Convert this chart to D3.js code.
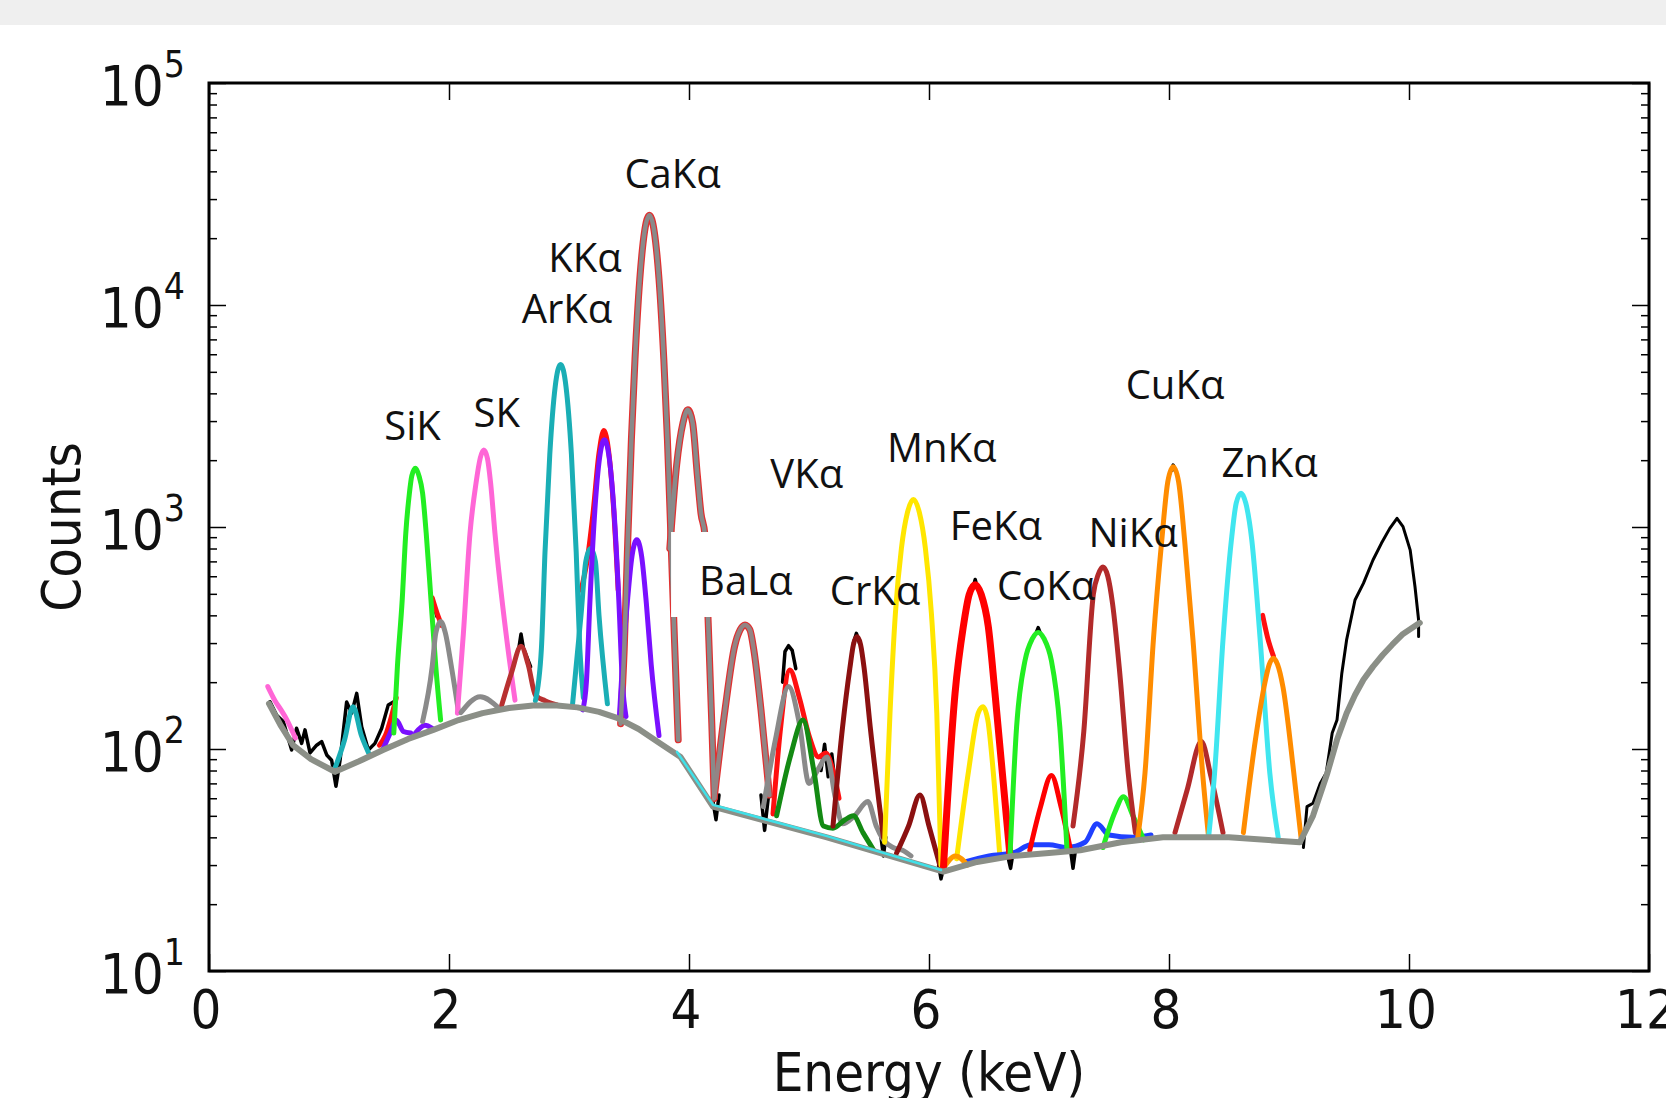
<!DOCTYPE html>
<html>
<head>
<meta charset="utf-8">
<script src="https://cdn.jsdelivr.net/npm/d3@7"></script>
<style>
  html, body { margin: 0; padding: 0; background: #fff; }
  .tick-font { font-family: 'DejaVu Sans Condensed', 'DejaVu Sans', sans-serif; font-stretch: condensed; fill: #111; }
  .peak-label { font-family: 'Open Sans', 'Lato', sans-serif; fill: #111; }
</style>
</head>
<body>
<div id="app"></div>
<script>
// values, [energy keV, counts]
var background = [[0.5,160],[0.6,127],[0.7,104],[0.85,90],[1.05,79],[1.25,88],[1.45,99],[1.66,111],[1.87,122],[2.08,135],[2.28,145],[2.5,153],[2.7,157],[2.9,157],[3.07,154],[3.25,147],[3.4,138],[3.58,123],[3.76,106],[3.93,92],[4.2,55],[5.15,40],[6.12,28],[6.4,31],[6.7,33],[7.0,34],[7.26,35],[7.6,38],[7.95,40],[8.5,40],[9.09,38],[9.2,50],[9.32,78],[9.4,110],[9.48,145],[9.55,175],[9.62,205],[9.7,235],[9.78,265],[9.86,295],[9.95,330],[10.09,370]];
var cyanBase = [[3.9,97],[4.2,56],[5.15,40.5],[6.1,28.5]];

var measuredLow = [[0.508,163],[0.564,142],[0.619,133],[0.647,118],[0.689,99],[0.73,124],[0.772,106],[0.8,122],[0.842,96],[0.897,104],[0.939,108],[0.981,94],[1.022,89],[1.058,68],[1.092,89],[1.147,163],[1.189,145],[1.231,178],[1.272,126],[1.328,99],[1.383,106],[1.439,124],[1.494,158],[1.536,163]];
var measuredHigh = [[9.12,36],[9.15,55],[9.2,57],[9.26,70],[9.31,78],[9.36,118],[9.4,135],[9.44,219],[9.48,310],[9.55,469],[9.62,557],[9.7,710],[9.77,844],[9.84,986],[9.9,1094],[9.95,1004],[10.01,787],[10.05,538],[10.08,381],[10.08,321]];
var measuredSpikes = [
  [[1.85,480],[1.88,430],[1.9,395]],
  [[2.58,280],[2.6,330],[2.62,285],[2.68,235]],
  [[4.2,58],[4.225,48],[4.25,62]],
  [[4.6,62],[4.63,43],[4.66,60]],
  [[4.78,200],[4.8,275],[4.83,292],[4.86,278],[4.89,230]],
  [[5.1,80],[5.13,105],[5.16,75],[5.19,95],[5.22,68]],
  [[5.37,300],[5.395,332],[5.42,300]],
  [[5.6,40],[5.62,33],[5.64,40]],
  [[6.08,30],[6.1,26],[6.12,29]],
  [[6.37,540],[6.385,580],[6.4,540]],
  [[6.65,34],[6.68,29],[6.7,34]],
  [[6.89,330],[6.91,352],[6.93,330]],
  [[7.18,35],[7.2,29],[7.22,35]],
  [[8.02,1800],[8.035,1900],[8.05,1800]]
];

var redLow = [[1.42,104],[1.47,115],[1.52,140],[1.56,170]];
var redSi = [[1.86,480],[1.9,410],[1.94,360]];
var redKK = [[3.1,520],[3.15,700],[3.2,1150],[3.25,2150],[3.29,2720],[3.33,2200],[3.37,1250],[3.41,520]];
var redV = [[4.7,51],[4.76,120],[4.84,227],[4.92,170],[5.0,115],[5.08,92],[5.14,96],[5.2,80],[5.25,60]];
var redZn = [[8.78,400],[8.82,320],[8.87,262]];

var pinkTail = [[0.49,191],[0.55,165],[0.6,150],[0.65,135],[0.72,112]];
var tealLow = [[1.05,82],[1.13,110],[1.2,155],[1.27,115],[1.33,96]];
var violetLow = [[1.45,100],[1.51,118],[1.56,135],[1.62,120],[1.68,118]];
var violetSi = [[1.72,118],[1.8,128],[1.86,124]];
var siK = [[1.54,118],[1.57,235],[1.61,469],[1.64,938],[1.67,1420],[1.69,1700],[1.72,1840],[1.75,1700],[1.78,1420],[1.81,938],[1.85,469],[1.89,235],[1.93,135]];
var grey19 = [[1.78,133],[1.86,235],[1.89,333],[1.93,375],[1.97,333],[2.02,235],[2.08,146]];
var sK = [[2.07,145],[2.12,332],[2.175,938],[2.225,1574],[2.26,2040],[2.29,2220],[2.32,2040],[2.347,1574],[2.383,938],[2.475,332],[2.55,166]];
var grey23 = [[2.1,146],[2.26,172],[2.42,152]];
var brown26 = [[2.44,158],[2.52,220],[2.6,290],[2.66,240],[2.72,175],[2.8,165],[2.9,158]];
var arKa = [[2.72,165],[2.77,283],[2.8,770],[2.84,2130],[2.885,4290],[2.93,5400],[2.975,4290],[3.02,2130],[3.06,770],[3.09,283],[3.12,170]];
var arKb = [[3.03,160],[3.1,400],[3.14,700],[3.18,800],[3.22,700],[3.25,400],[3.32,160]];
var kKa = [[3.115,150],[3.145,200],[3.175,470],[3.215,1180],[3.255,2050],[3.295,2470],[3.335,2050],[3.375,1180],[3.415,470],[3.445,200],[3.475,140]];
var kKb = [[3.42,140],[3.445,240],[3.485,450],[3.525,740],[3.565,875],[3.605,740],[3.645,450],[3.685,240],[3.75,115]];
var caKa = [[3.43,130],[3.46,280],[3.49,880],[3.52,2480],[3.55,5710],[3.59,13100],[3.63,21500],[3.67,25400],[3.71,21500],[3.75,13100],[3.79,5710],[3.82,2480],[3.85,880],[3.88,300],[3.91,110]];
var caKb = [[3.84,800],[3.897,1900],[3.95,2950],[3.99,3370],[4.03,2950],[4.07,1700],[4.1,1150],[4.133,921],[4.16,370],[4.19,130],[4.21,60]];
var baLa = [[4.21,60],[4.3,150],[4.38,290],[4.427,345],[4.467,362],[4.507,345],[4.54,280],[4.6,150],[4.67,62]];
var baLb = [[4.62,55],[4.72,110],[4.83,191],[4.92,130],[5.0,70],[5.07,80],[5.15,92],[5.22,60],[5.28,46],[5.38,50],[5.49,58],[5.56,45],[5.62,39],[5.7,36],[5.78,35],[5.85,33]];
var vKa = [[4.73,50],[4.85,95],[4.95,135],[5.04,80],[5.12,45],[5.2,44],[5.3,48],[5.37,50],[5.45,42],[5.54,35]];
var crKa = [[5.2,45],[5.28,126],[5.34,230],[5.37,295],[5.4,320],[5.43,295],[5.46,230],[5.51,126],[5.62,40]];
var crKb = [[5.73,34],[5.83,45],[5.925,62],[6.0,45],[6.09,30]];
var mnKa = [[5.63,38],[5.675,145],[5.72,408],[5.77,800],[5.82,1160],[5.87,1330],[5.92,1160],[5.97,800],[6.02,408],[6.065,145],[6.1,30]];
var mnKb = [[6.23,32],[6.33,80],[6.41,145],[6.45,155],[6.49,135],[6.53,85],[6.59,33]];
var feKa = [[6.12,29],[6.217,178],[6.286,356],[6.335,497],[6.385,550],[6.435,497],[6.494,356],[6.55,178],[6.675,33]];
var feKb = [[6.84,35],[6.93,55],[7.02,76],[7.1,55],[7.18,35]];
var blueBase = [[6.3,31],[6.5,33],[6.7,34],[6.85,37],[7.0,37],[7.15,36],[7.3,38],[7.4,46],[7.5,41],[7.7,40],[7.85,41]];
var orangeSmall = [[6.12,29],[6.22,33],[6.32,30]];
var coKa = [[6.675,33],[6.73,126],[6.8,250],[6.86,313],[6.91,335],[6.96,313],[7.02,250],[7.09,126],[7.15,35]];
var coKb = [[7.45,36],[7.55,52],[7.62,61],[7.7,50],[7.79,39]];
var niKa = [[7.2,45],[7.29,120],[7.37,500],[7.41,610],[7.45,660],[7.49,600],[7.53,450],[7.59,219],[7.66,78],[7.72,42]];
var niKb = [[8.05,42],[8.15,65],[8.27,108],[8.35,75],[8.45,42]];
var cuKa = [[7.74,40],[7.8,78],[7.87,310],[7.94,873],[7.99,1600],[8.035,1870],[8.08,1600],[8.13,873],[8.2,310],[8.28,78],[8.33,40]];
var znKa = [[8.33,40],[8.38,78],[8.45,310],[8.52,873],[8.56,1280],[8.6,1420],[8.64,1280],[8.69,873],[8.76,310],[8.84,78],[8.91,40]];
var cuKb = [[8.62,42],[8.72,110],[8.8,200],[8.835,240],[8.87,256],[8.905,240],[8.95,190],[9.04,78],[9.1,40]];

var labelNames = ['CaKα','KKα','ArKα','SiK','SK','VKα','MnKα','BaLα','CrKα','FeKα','CoKα','NiKα','CuKα','ZnKα'];
var labelEnergy = [3.863,3.133,2.983,1.696,2.398,4.981,6.106,4.473,5.55,6.557,6.975,7.70,8.05,8.838];
var labelCounts = [33650,14090,8290,2466,2820,1499,1963,494,446,874,469,813,3773,1679];

var xTicks = [0,2,4,6,8,10,12];
var yDecades = [10,100,1000,10000,100000];
var yExponents = ['1','2','3','4','5'];

// ---- layout
var W = 1666, H = 1098;
var pLeft = 209, pRight = 1649, pTop = 83, pBottom = 971;

var svg = d3.select('#app').append('svg')
    .attr('width', W)
    .attr('height', H)
    .style('display', 'block');

svg.append('rect').attr('x',0).attr('y',0).attr('width',W).attr('height',25).attr('fill','#efefef');

var x = d3.scaleLinear().domain([0,12]).range([pLeft,pRight]);
var y = d3.scaleLog().domain([10,100000]).range([pBottom,pTop]);

var smooth = d3.line().x(function(d){return x(d[0])}).y(function(d){return y(d[1])}).curve(d3.curveMonotoneX);
var jagged = d3.line().x(function(d){return x(d[0])}).y(function(d){return y(d[1])});

var plot = svg.append('g').attr('class','plot');

function draw(data, line, color, width){
  plot.append('path')
    .attr('d', line(data))
    .attr('fill','none')
    .attr('stroke', color)
    .attr('stroke-width', width)
    .attr('stroke-linejoin','round')
    .attr('stroke-linecap','round');
}

// measured spectrum
draw(measuredLow, jagged, '#000', 3.5);
draw(measuredHigh, jagged, '#000', 3);
measuredSpikes.forEach(function(s){ draw(s, jagged, '#000', 3.5); });

// total fit bits
[redLow, redSi, redKK, redV, redZn].forEach(function(s){ draw(s, smooth, '#ff1010', 5); });
[caKa, caKb, baLa].forEach(function(s){ draw(s, smooth, '#e03030', 7); });

// fitted lines
var comps = [
  [pinkTail,'#ff66d6',5],[tealLow,'#1aaeb5',5],[violetLow,'#7a10ff',5],[violetSi,'#7a10ff',5],
  [siK,'#22ee22',5],[grey19,'#8a8a8a',5],[sK,'#ff66d6',5],[grey23,'#8a8a8a',5],[brown26,'#b83030',5],
  [arKa,'#1aaeb5',5],[arKb,'#1aaeb5',5],[kKa,'#7a10ff',5],[kKb,'#7a10ff',5],
  [caKa,'#8a8a8a',4.5],[caKb,'#8a8a8a',4.5],[baLa,'#948484',4.5],[baLb,'#8a8a8a',5],
  [vKa,'#138a13',5],[crKa,'#8b1010',5],[crKb,'#8b1010',5],[mnKa,'#ffe600',5],[mnKb,'#ffe600',5],
  [blueBase,'#2040ff',5],[orangeSmall,'#ff9900',5],[feKa,'#ff0000',7],[feKb,'#ff0000',5],
  [coKa,'#22ee22',5],[coKb,'#22ee22',5],[niKa,'#b22a2a',5],[niKb,'#b22a2a',5],
  [cuKa,'#ff8c00',5],[znKa,'#40e6ef',5],[cuKb,'#ff8c00',5]
];
comps.forEach(function(c){ draw(c[0], smooth, c[1], c[2]); });

// continuum
draw(background, jagged, '#8b8f87', 6);
draw(cyanBase, jagged, '#40e0e8', 2.5);

// ---- frame and ticks
var axes = svg.append('g').attr('class','axes');

axes.append('g').attr('transform','translate(0,'+pBottom+')')
  .call(d3.axisBottom(x).tickValues(xTicks).tickSize(-17).tickFormat(''));
axes.append('g').attr('transform','translate(0,'+pTop+')')
  .call(d3.axisTop(x).tickValues(xTicks).tickSize(-17).tickFormat(''));

var minor = [];
for (var k = 10; k < 100000; k *= 10) { for (var m = 2; m <= 9; m++) minor.push(k*m); }

[[d3.axisLeft, pLeft],[d3.axisRight, pRight]].forEach(function(a){
  axes.append('g').attr('transform','translate('+a[1]+',0)')
    .call(a[0](y).tickValues(yDecades).tickSize(-17).tickFormat(''));
  axes.append('g').attr('transform','translate('+a[1]+',0)')
    .call(a[0](y).tickValues(minor).tickSize(-8).tickFormat(''));
});
axes.selectAll('.domain').remove();
axes.selectAll('.tick line').attr('stroke','#000').attr('stroke-width',1.5);

axes.append('rect')
  .attr('x',pLeft).attr('y',pTop)
  .attr('width',pRight-pLeft).attr('height',pBottom-pTop)
  .attr('fill','none').attr('stroke','#000').attr('stroke-width',3);

// tick labels
svg.append('g').selectAll('text').data(xTicks).enter().append('text')
  .attr('class','tick-font')
  .attr('x', function(d){ return x(d) - 3; })
  .attr('y', pBottom + 57)
  .attr('text-anchor','middle')
  .style('font-size','54px')
  .text(function(d){ return d; });

var yl = svg.append('g').selectAll('text').data(yDecades).enter().append('text')
  .attr('class','tick-font')
  .attr('x', 185)
  .attr('y', function(d){ return y(d) + 22; })
  .attr('text-anchor','end')
  .style('font-size','56px');
yl.append('tspan').text('10');
yl.append('tspan').attr('dy',-28).style('font-size','37px').text(function(d,i){ return yExponents[i]; });

svg.append('text').attr('class','tick-font')
  .attr('transform','translate(80,527) rotate(-90)')
  .attr('text-anchor','middle')
  .style('font-size','54px')
  .text('Counts');

svg.append('text').attr('class','tick-font')
  .attr('x', 929).attr('y', 1091)
  .attr('text-anchor','middle')
  .style('font-size','54px')
  .text('Energy (keV)');

// peak labels
var lab = svg.append('g');
labelNames.forEach(function(name, i){
  var t = lab.append('text').attr('class','peak-label')
    .attr('x', x(labelEnergy[i]))
    .attr('y', y(labelCounts[i]))
    .attr('text-anchor','middle')
    .style('font-size','40px')
    .text(name);
  if (name === 'BaLα') {
    var b = t.node().getBBox();
    lab.insert('rect', 'text')
      .attr('x', b.x - 28).attr('y', b.y - 20)
      .attr('width', b.width + 56).attr('height', b.height + 30)
      .attr('fill', '#fff');
  }
});
</script>
</body>
</html>
